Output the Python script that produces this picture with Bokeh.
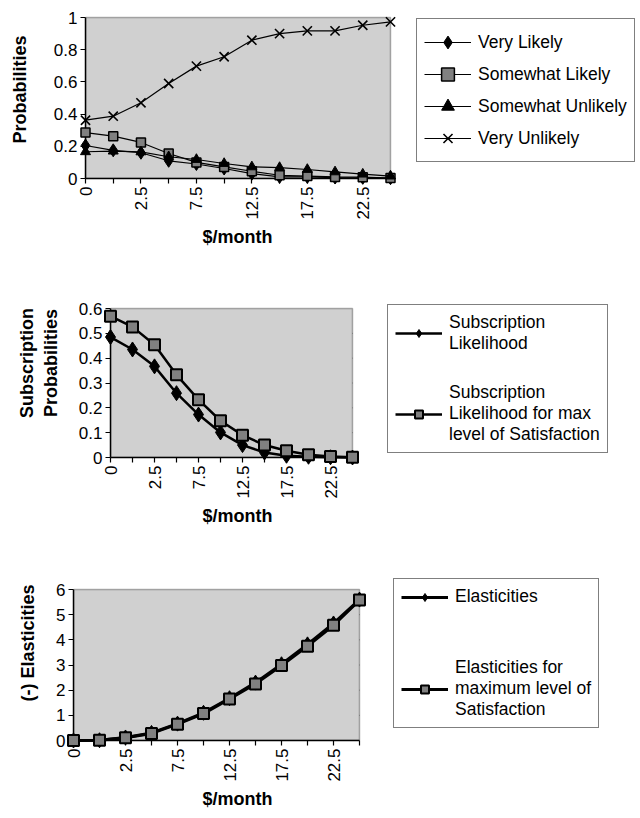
from math import pi
from bokeh.plotting import figure
from bokeh.layouts import column
from bokeh.models import Range1d, FixedTicker, Legend, LegendItem, BoxAnnotation, Title
from bokeh.embed import file_html
from bokeh.resources import INLINE

# ---------------- data ----------------
x_labels = ["0", "", "2.5", "", "7.5", "", "12.5", "", "17.5", "", "22.5", ""]
x_idx = list(range(len(x_labels)))

very_likely = [0.205, 0.175, 0.16, 0.11, 0.09, 0.062, 0.03, 0.01, 0.01, 0.006, 0.004, 0.002]
somewhat_likely = [0.285, 0.263, 0.224, 0.155, 0.10, 0.072, 0.045, 0.02, 0.015, 0.01, 0.008, 0.003]
somewhat_unlikely = [0.166, 0.17, 0.165, 0.135, 0.118, 0.093, 0.072, 0.068, 0.056, 0.041, 0.027, 0.015]
very_unlikely = [0.362, 0.387, 0.47, 0.59, 0.698, 0.756, 0.859, 0.90, 0.917, 0.917, 0.952, 0.973]

sub_likelihood = [0.485, 0.435, 0.367, 0.259, 0.173, 0.101, 0.05, 0.02, 0.007, 0.003, 0.001, 0.0]
sub_likelihood_max = [0.569, 0.526, 0.454, 0.333, 0.233, 0.148, 0.09, 0.05, 0.027, 0.011, 0.004, 0.001]

elasticities = [0.0, 0.01, 0.12, 0.30, 0.67, 1.10, 1.68, 2.30, 3.03, 3.82, 4.65, 5.60]
elasticities_max = [0.0, 0.01, 0.11, 0.28, 0.65, 1.07, 1.65, 2.25, 2.98, 3.75, 4.58, 5.58]

y1_ticks = [0, 0.2, 0.4, 0.6, 0.8, 1.0]
y1_labels = ["0", "0.2", "0.4", "0.6", "0.8", "1"]
y2_ticks = [0, 0.1, 0.2, 0.3, 0.4, 0.5, 0.6]
y2_labels = ["0", "0.1", "0.2", "0.3", "0.4", "0.5", "0.6"]
y3_ticks = [0, 1, 2, 3, 4, 5, 6]
y3_labels = ["0", "1", "2", "3", "4", "5", "6"]
x_title = "$/month"

FONT = "Liberation Sans"
BG = "#d0d0d0"
SQ_FILL = "#808080"
W = 640
X_TITLE_LEFT = 202     # left edge of the "$/month" titles, in page pixels


def make_fig(height, box, y_ticks, y_labels, y_title, title_standoff):
    # box = plot-area edges in figure pixels; the frame runs from the plot area's
    # left/bottom edges to the figure's right/top edges so the legend fits inside it
    L, R, T, B = box
    n = x_idx[-1]
    ymax = y_ticks[-1]
    sx = (R - L) / n
    sy = (B - T) / ymax
    p = figure(width=W, height=height, output_backend="svg", toolbar_location=None,
               x_range=Range1d(x_idx[0], n + (W - R) / sx),
               y_range=Range1d(0, ymax + T / sy),
               min_border_left=L, min_border_right=0,
               min_border_top=0, min_border_bottom=height - B)
    try:
        p.frame_align = False
    except Exception:
        pass
    p.background_fill_color = "white"
    p.border_fill_color = "white"
    p.outline_line_color = None
    p.xgrid.visible = False
    p.ygrid.visible = False

    p.add_layout(BoxAnnotation(left=x_idx[0], right=n, bottom=0, top=ymax,
                               fill_color=BG, fill_alpha=1, line_color="black",
                               line_width=1.5, level="underlay"))
    gt = y_ticks[1:-1]
    p.segment(x0=[x_idx[0]] * len(gt), x1=[n] * len(gt), y0=gt, y1=gt,
              line_color="#222222", line_width=1, line_dash="3 2", level="underlay")

    p.xaxis.ticker = FixedTicker(ticks=x_idx)
    p.xaxis.major_label_overrides = {i: lab for i, lab in zip(x_idx, x_labels)}
    p.xaxis.major_label_orientation = pi / 2
    p.xaxis.bounds = (x_idx[0], n)
    p.yaxis.ticker = FixedTicker(ticks=y_ticks)
    p.yaxis.major_label_overrides = {t: lab for t, lab in zip(y_ticks, y_labels)}
    p.yaxis.axis_label = y_title
    p.yaxis.bounds = (0, ymax)
    for ax in (p.xaxis, p.yaxis):
        ax.axis_line_color = "black"
        ax.axis_line_width = 1.5
        ax.major_tick_line_color = "black"
        ax.major_tick_line_width = 1.2
        ax.major_tick_in = 0
        ax.major_tick_out = 5
        ax.minor_tick_line_color = None
        ax.major_label_text_font = FONT
        ax.major_label_text_font_size = "17px"
        ax.major_label_text_color = "black"
        ax.axis_label_text_font = FONT
        ax.axis_label_text_font_size = "18px"
        ax.axis_label_text_font_style = "bold"
        ax.axis_label_text_color = "black"
        ax.major_label_standoff = 3
    p.yaxis.axis_label_standoff = title_standoff

    # x-axis title under the plot area (not centred on the wider frame)
    p.add_layout(Title(text=x_title, align="left", offset=X_TITLE_LEFT - L,
                       text_font=FONT, text_font_size="18px", text_font_style="bold",
                       text_color="black", standoff=5), "below")
    return p


def add_legend(p, items, box_left, box_bottom, box, **kw):
    L, R, T, B = box
    leg = Legend(items=items, location=(box_left - L, B - box_bottom))
    leg.label_text_font = FONT
    leg.label_text_font_size = "17.5px"
    leg.label_text_color = "black"
    leg.border_line_color = "black"
    leg.border_line_width = 1
    leg.background_fill_color = "white"
    leg.background_fill_alpha = 1
    leg.glyph_width = 47
    leg.label_standoff = 7
    leg.margin = 0
    for k, v in kw.items():
        setattr(leg, k, v)
    p.add_layout(leg)
    return leg


def series(p, ys, marker, size, fill, lw, mlw):
    ln = p.line(x_idx, ys, line_color="black", line_width=lw, level="overlay")
    sc = p.scatter(x_idx, ys, marker=marker, size=size, fill_color=fill,
                   line_color="black", line_width=mlw, level="overlay")
    return [ln, sc]


# ---------------- chart 1 ----------------
box1 = (85, 390, 17, 178)
p1 = make_fig(268, box1, y1_ticks, y1_labels, "Probabilities", 21)
items1 = [
    LegendItem(label="Very Likely", renderers=series(p1, very_likely, "diamond", 13, "black", 1.2, 1)),
    LegendItem(label="Somewhat Likely", renderers=series(p1, somewhat_likely, "square", 9, SQ_FILL, 1.2, 1.5)),
    LegendItem(label="Somewhat Unlikely", renderers=series(p1, somewhat_unlikely, "triangle", 10, "black", 1.2, 1)),
    LegendItem(label="Very Unlikely", renderers=series(p1, very_unlikely, "x", 13, None, 1.2, 1.6)),
]
add_legend(p1, items1, 416, 162, box1, glyph_height=32, label_height=32, spacing=0, padding=7)

# ---------------- chart 2 ----------------
box2 = (110, 352, 40, 189)
p2 = make_fig(277, box2, y2_ticks, y2_labels, "Subscription\nProbabilities", 15)
r2a = series(p2, sub_likelihood, "diamond", 15, "black", 2.5, 1)
r2b = series(p2, sub_likelihood_max, "square", 11, SQ_FILL, 2.5, 2)
add_legend(p2, [
    LegendItem(label="Subscription\nLikelihood", renderers=r2a),
    LegendItem(label="Subscription\nLikelihood for max\nlevel of Satisfaction", renderers=r2b),
], 387, 185, box2, glyph_height=20, spacing=28, padding=7)

# ---------------- chart 3 ----------------
box3 = (73, 359, 44, 195)
p3 = make_fig(273, box3, y3_ticks, y3_labels, "(-) Elasticities", 15)
r3a = series(p3, elasticities, "diamond", 15, "black", 3, 1)
r3b = series(p3, elasticities_max, "square", 11, SQ_FILL, 3, 2)
add_legend(p3, [
    LegendItem(label="Elasticities", renderers=r3a),
    LegendItem(label="Elasticities for\nmaximum level of\nSatisfaction", renderers=r3b),
], 393, 183, box3, glyph_height=20, spacing=50, padding=7)

layout = column(p1, p2, p3, spacing=0)
open("out.html", "w").write(file_html(layout, INLINE))
